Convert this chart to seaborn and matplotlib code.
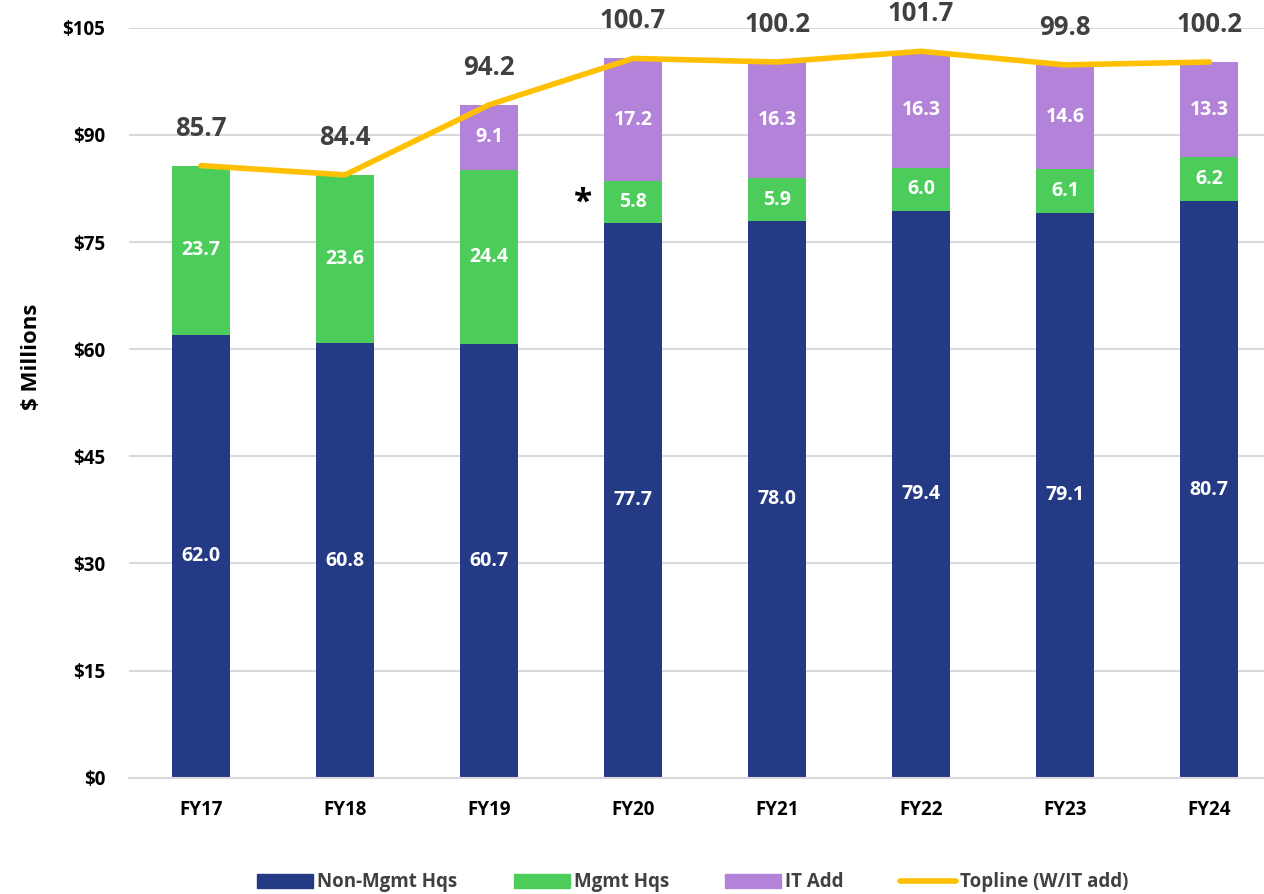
import matplotlib
matplotlib.use("Agg")
import matplotlib.pyplot as plt
import seaborn as sns
import numpy as np
from matplotlib.patches import Patch
from matplotlib.lines import Line2D

years = ["FY17", "FY18", "FY19", "FY20", "FY21", "FY22", "FY23", "FY24"]
non_mgmt = [62.0, 60.8, 60.7, 77.7, 78.0, 79.4, 79.1, 80.7]
mgmt = [23.7, 23.6, 24.4, 5.8, 5.9, 6.0, 6.1, 6.2]
it_add = [0, 0, 9.1, 17.2, 16.3, 16.3, 14.6, 13.3]
topline = [85.7, 84.4, 94.2, 100.7, 100.2, 101.7, 99.8, 100.2]
yticks = [0, 15, 30, 45, 60, 75, 90, 105]

c_navy = "#253A84"
c_green = "#4CCD5B"
c_purple = "#B283D8"
c_gold = "#FFC000"

sns.set_theme(style="white")
plt.rcParams["font.family"] = ["Open Sans", "DejaVu Sans"]

fig = plt.figure(figsize=(12.64, 8.94), dpi=100)
ax = fig.add_axes([0.102, 0.130, 0.898, 0.839])

bot2 = np.array(non_mgmt) + np.array(mgmt)
bar_kw = dict(width=0.4, ax=ax, saturation=1, zorder=2, linewidth=0, edgecolor="none")
sns.barplot(x=years, y=non_mgmt, color=c_navy, **bar_kw)
sns.barplot(x=years, y=mgmt, bottom=non_mgmt, color=c_green, **bar_kw)
sns.barplot(x=years, y=it_add, bottom=bot2, color=c_purple, **bar_kw)
sns.lineplot(x=years, y=topline, color=c_gold, lw=4, ax=ax, zorder=3, sort=False)

lab_kw = dict(ha="center", va="center", color="white", fontsize=14, fontweight="bold", zorder=4)
for i in range(len(years)):
    ax.text(i, non_mgmt[i] / 2, f"{non_mgmt[i]:.1f}", **lab_kw)
    ax.text(i, non_mgmt[i] + mgmt[i] / 2, f"{mgmt[i]:.1f}", **lab_kw)
    if it_add[i] > 0:
        ax.text(i, bot2[i] + it_add[i] / 2, f"{it_add[i]:.1f}", **lab_kw)
    ax.annotate(f"{topline[i]:.1f}", (i, topline[i]), xytext=(0, 27), textcoords="offset points",
                ha="center", va="center", color="#404040", fontsize=18.5, fontweight="bold",
                annotation_clip=False, zorder=4)

ax.text(2.65, 80.4, "*", ha="center", va="center", fontsize=24, fontweight="bold", color="black")

ax.set_ylim(0, 105)
ax.set_xlim(-0.5, 7.38)
ax.set_yticks(yticks)
ax.set_yticklabels([f"${v}" for v in yticks], fontsize=13.5, fontweight="bold", color="black")
ax.set_xticks(range(len(years)))
ax.set_xticklabels(years, fontsize=13.5, fontweight="bold", color="black")
ax.tick_params(axis="x", pad=16, length=0)
ax.tick_params(axis="y", pad=17, length=0)
ax.yaxis.grid(True, color="#D9D9D9", lw=1.5, zorder=0)
ax.set_axisbelow(True)
for s in ["top", "right", "left"]:
    ax.spines[s].set_visible(False)
ax.spines["bottom"].set_color("#D9D9D9")
ax.spines["bottom"].set_linewidth(1.5)
ax.set_ylabel("$ Millions", fontsize=16, fontweight="bold", color="black")
ax.yaxis.set_label_coords(-0.077, 0.561)

handles = [Patch(color=c_navy, label="Non-Mgmt Hqs"),
           Patch(color=c_green, label="Mgmt Hqs"),
           Patch(color=c_purple, label="IT Add"),
           Line2D([0], [0], color=c_gold, lw=4, label="Topline (W/IT add)")]
leg = fig.legend(handles=handles, loc="center", bbox_to_anchor=(0.548, 0.013), ncol=4,
                 frameon=False, handlelength=3.0, handleheight=0.8, columnspacing=3.0,
                 handletextpad=0.2, prop={"weight": "bold", "size": 13.5})
for t in leg.get_texts():
    t.set_color("#404040")

fig.savefig("out.png", dpi=100)
